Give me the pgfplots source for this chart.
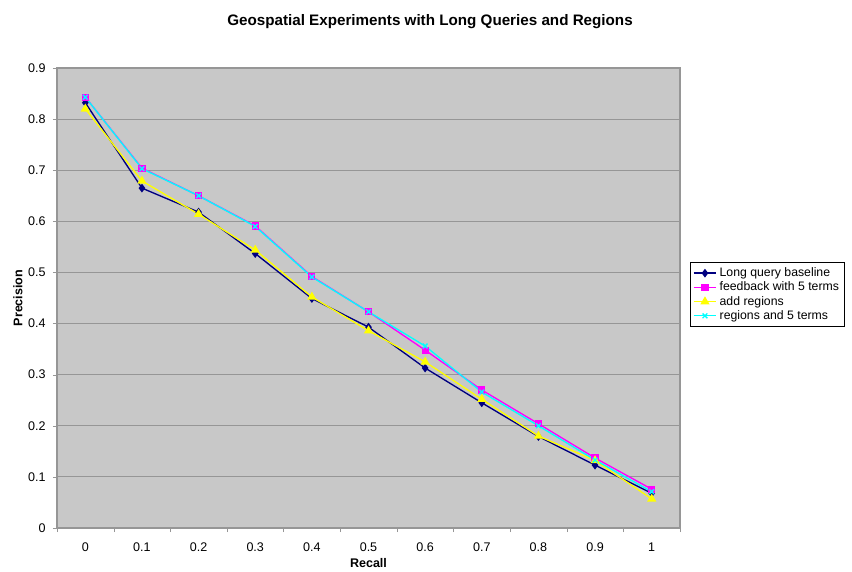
\documentclass[border=0pt]{standalone}
\usepackage{pgfplots}
\pgfplotsset{compat=1.18}
\usepackage{fontspec}
\setmainfont{Liberation Sans}
\definecolor{bgc}{RGB}{200,200,200}
\definecolor{gridc}{RGB}{150,150,150}
\definecolor{navyc}{RGB}{0,0,128}
\definecolor{magc}{RGB}{255,0,255}
\definecolor{yelc}{RGB}{255,255,0}
\definecolor{cyac}{RGB}{0,255,255}
\begin{document}
\begin{tikzpicture}[x=0.75pt,y=0.75pt]
\useasboundingbox (0,0) rectangle (852,571);
\node[font=\bfseries\fontsize{11.4}{13}\selectfont] at (430,549) {Geospatial Experiments with Long Queries and Regions};
\begin{axis}[
  at={(57pt*0.75,43pt*0.75)}, anchor=south west,
  scale only axis, width=623*0.75pt, height=460*0.75pt,
  xmin=-0.5, xmax=10.5, ymin=0, ymax=0.9,
  xtick={0,...,10},
  xticklabels={0,0.1,0.2,0.3,0.4,0.5,0.6,0.7,0.8,0.9,1},
  minor xtick={-0.5,0.5,...,10.5},
  ytick={0,0.1,...,0.9},
  xtick pos=bottom, ytick pos=left,
  yticklabel style={/pgf/number format/fixed,/pgf/number format/precision=1, xshift=-2pt},
  xticklabel style={yshift=-4.5pt},
  /pgf/number format/assume math mode=true,
  major x tick style={draw=none},
  minor x tick style={draw=gridc},
  major y tick style={draw=gridc},
  tick align=outside,
  major tick length=3pt, minor tick length=3pt,
  ymajorgrids, major grid style={gridc, line width=0.7pt},
  axis background/.style={fill=bgc},
  axis line style={gridc, line width=0.8pt},
  tick label style={font=\fontsize{9.4}{11}\selectfont},
  xlabel={\bfseries Recall}, ylabel={\bfseries Precision},
  label style={font=\fontsize{9.4}{11}\selectfont},
  xlabel style={yshift=1.5pt},
  ylabel style={yshift=-2.5pt},
  legend style={at={(rel axis cs:1.016,0.578)}, anchor=north west, draw=black, fill=white, font=\fontsize{9.2}{11}\selectfont, row sep=-1.5pt, inner sep=2pt},
  legend cell align=left,
  every axis plot/.append style={line width=1pt},
]
\addplot[navyc, mark=diamond*, mark size=2.5pt, mark options={fill=navyc}] coordinates {
(0,0.832)(1,0.665)(2,0.618)(3,0.537)(4,0.449)(5,0.393)(6,0.313)(7,0.245)(8,0.179)(9,0.123)(10,0.068)};
\addlegendentry{Long query baseline}
\addplot[magc, mark=square*, mark size=2.2pt, mark options={fill=magc}] coordinates {
(0,0.843)(1,0.704)(2,0.650)(3,0.591)(4,0.492)(5,0.423)(6,0.348)(7,0.270)(8,0.204)(9,0.137)(10,0.076)};
\addlegendentry{feedback with 5 terms}
\addplot[yelc, mark=triangle*, mark size=3pt, mark options={fill=yelc}] coordinates {
(0,0.820)(1,0.679)(2,0.614)(3,0.544)(4,0.452)(5,0.386)(6,0.325)(7,0.252)(8,0.180)(9,0.132)(10,0.057)};
\addlegendentry{add regions}
\addplot[cyac, mark=x, mark size=2.5pt] coordinates {
(0,0.843)(1,0.703)(2,0.650)(3,0.590)(4,0.491)(5,0.423)(6,0.356)(7,0.266)(8,0.200)(9,0.133)(10,0.071)};
\addlegendentry{regions and 5 terms}
\end{axis}
\end{tikzpicture}
\end{document}
